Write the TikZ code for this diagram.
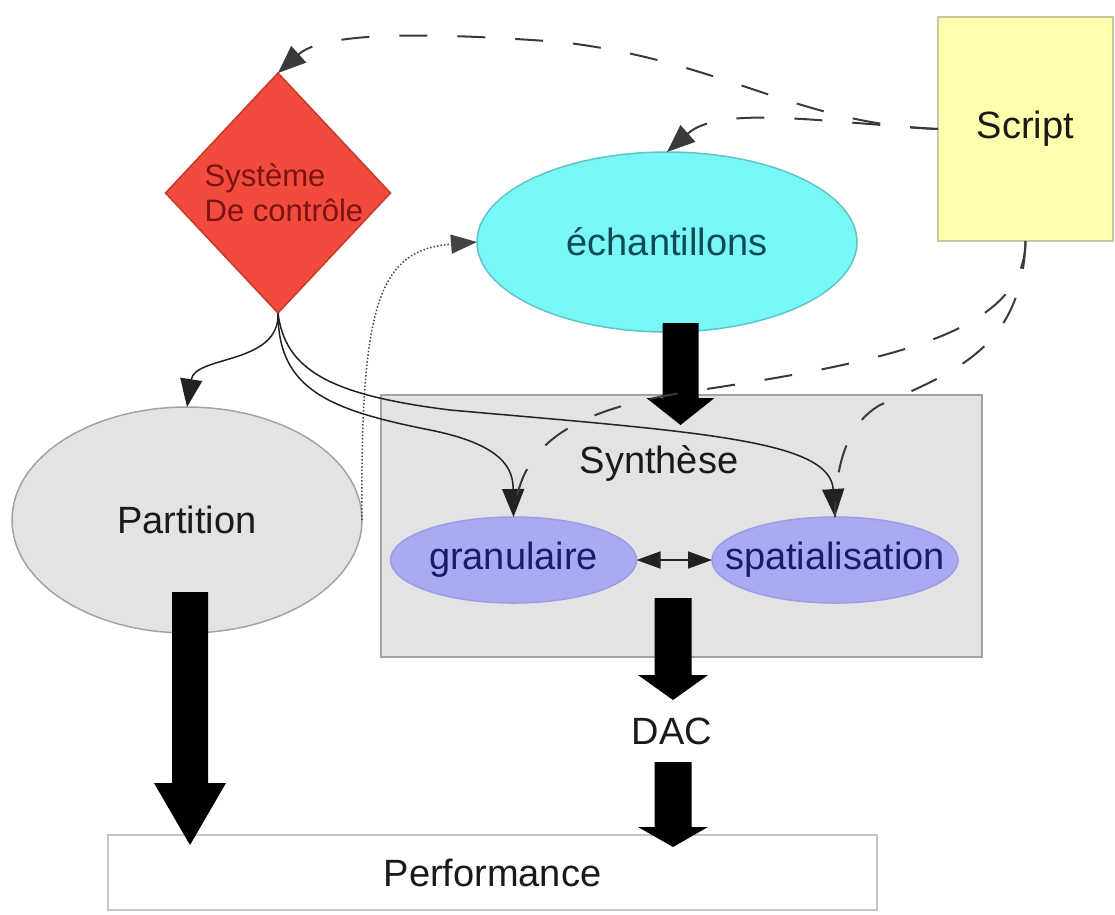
\documentclass[tikz,border=0pt]{standalone}
\usepackage{fontspec}
\setmainfont{Liberation Sans}
\usetikzlibrary{shapes.geometric,arrows.meta}
\definecolor{ctrlfill}{HTML}{F24A3C}
\definecolor{ctrlborder}{HTML}{C8382C}
\definecolor{ctrltext}{HTML}{7A1414}
\definecolor{scriptfill}{HTML}{FFFFAE}
\definecolor{scriptborder}{HTML}{C9C9A0}
\definecolor{echfill}{HTML}{78F6F8}
\definecolor{echborder}{HTML}{5FC6C8}
\definecolor{echtext}{HTML}{0F4B55}
\definecolor{grayfill}{HTML}{E3E3E3}
\definecolor{grayborder}{HTML}{A3A3A3}
\definecolor{lilacfill}{HTML}{A9A9F4}
\definecolor{lilacborder}{HTML}{9C9CE6}
\definecolor{navytext}{HTML}{1B1B6E}
\definecolor{perfborder}{HTML}{C6C6C6}
\definecolor{linkcol}{HTML}{222222}
\definecolor{dashcol}{HTML}{3A3A3A}
\definecolor{dotcol}{HTML}{444444}
\definecolor{maintext}{HTML}{1A1A1A}
\newcommand\bigarr[6]{\fill[black] (#1-#5,#2) -- (#1+#5,#2) -- (#1+#5,#3) -- (#1+#6,#3) -- (#1,#4) -- (#1-#6,#3) -- (#1-#5,#3) -- cycle;}
\tikzset{
 base/.style={inner sep=0pt, outer sep=0pt, line width=1.5pt},
 bigtxt/.style={font=\fontsize{38}{44}\selectfont, text=maintext},
 ctrl/.style={base, diamond, draw=ctrlborder, fill=ctrlfill, minimum width=225pt, minimum height=240pt},
 ctrltxt/.style={inner sep=0pt, align=left, text=ctrltext, font=\fontsize{31}{35}\selectfont},
 scriptbox/.style={base, rectangle, draw=scriptborder, fill=scriptfill, minimum width=175pt, minimum height=224pt, bigtxt},
 echell/.style={base, ellipse, draw=echborder, fill=echfill, minimum width=380pt, minimum height=180pt, bigtxt, text=echtext},
 synthbox/.style={base, rectangle, draw=grayborder, fill=grayfill, minimum width=601pt, minimum height=262pt},
 lilac/.style={base, ellipse, draw=lilacborder, fill=lilacfill, minimum width=246pt, minimum height=86pt, bigtxt, text=navytext},
 partell/.style={base, ellipse, draw=grayborder, fill=grayfill, minimum width=350pt, minimum height=226pt, bigtxt},
 perfbox/.style={base, rectangle, draw=perfborder, fill=white, minimum width=769pt, minimum height=75pt, bigtxt},
 arrowtip/.style={-{Triangle[length=28pt,width=22pt]}},
 link/.style={line width=1.5pt, draw=linkcol, arrowtip},
 dashlink/.style={line width=2pt, draw=dashcol, dash pattern=on 28pt off 30pt},
 dotlink/.style={line width=1.5pt, draw=dotcol, dash pattern=on 1.5pt off 2pt},
}
\begin{document}
\begin{tikzpicture}[x=1pt,y=-1pt]
\useasboundingbox (0,0) rectangle (1115,914);
% containers and nodes
\node[synthbox] (synth) at (681.5,526) {};
\node[bigtxt, inner sep=0pt] (synthlbl) at (659,463) {Synthèse};
\node[partell] (part) at (187,520) {\makebox[0pt]{Partition}};
\node[ctrl] (ctrl) at (278,193) {};
\node[ctrltxt] (ctrllbl) at (284,193) {Système\\De contrôle};
\node[scriptbox] (script) at (1025.5,129) {Script};
\node[echell] (ech) at (667,242) {\makebox[0pt]{échantillons}};
\node[lilac] (gran) at (513.5,560) {\makebox[0pt]{granulaire}};
\node[lilac] (spat) at (835,560) {\makebox[0pt]{spatialisation}};
\node[perfbox] (perf) at (492.5,872.5) {\raisebox{-8pt}{Performance}};
\node[bigtxt, inner sep=0pt] (dac) at (672,731) {DAC};
% block arrows
\bigarr{680.5}{323}{398}{425}{18}{34}
\bigarr{673}{598}{675}{700}{18.5}{35}
\bigarr{673}{762}{827}{847}{18.5}{35}
\bigarr{190}{592}{783}{845}{18}{36}
% control links
\draw[link] (ctrl.south) .. controls (280,365) and (195,355) .. (part.north);
\draw[link] (ctrl.south) .. controls (278,390) and (330,410) .. (430,430) .. controls (505,445) and (513,470) .. (gran.north);
\draw[link] (ctrl.south) .. controls (285,370) and (330,395) .. (450,410) .. controls (700,432) and (830,440) .. (spat.north);
% script links
\draw[dashlink, arrowtip] (script.west) .. controls (800,125) and (720,60) .. (560,42) .. controls (400,30) and (320,35) .. (ctrl.north);
\draw[dashlink, arrowtip] (script.west) .. controls (820,122) and (720,105) .. (ech.north);
\draw[dashlink] (script.south) .. controls (1025,330) and (900,360) .. (700,390) .. controls (560,410) and (520,450) .. (gran.north);
\draw[dashlink] (script.south) .. controls (1022,345) and (960,370) .. (880,405) .. controls (845,425) and (835,470) .. (spat.north);
% partition to samples
\draw[dotlink, -{Triangle[length=26pt,width=19pt]}] (part.east) .. controls (360,300) and (380,250) .. (ech.west);
% granular <-> spatialisation
\draw[line width=1.5pt, draw=linkcol, {Triangle[length=24pt,width=17pt]}-{Triangle[length=24pt,width=17pt]}] (gran.east) -- (spat.west);
\end{tikzpicture}
\end{document}
